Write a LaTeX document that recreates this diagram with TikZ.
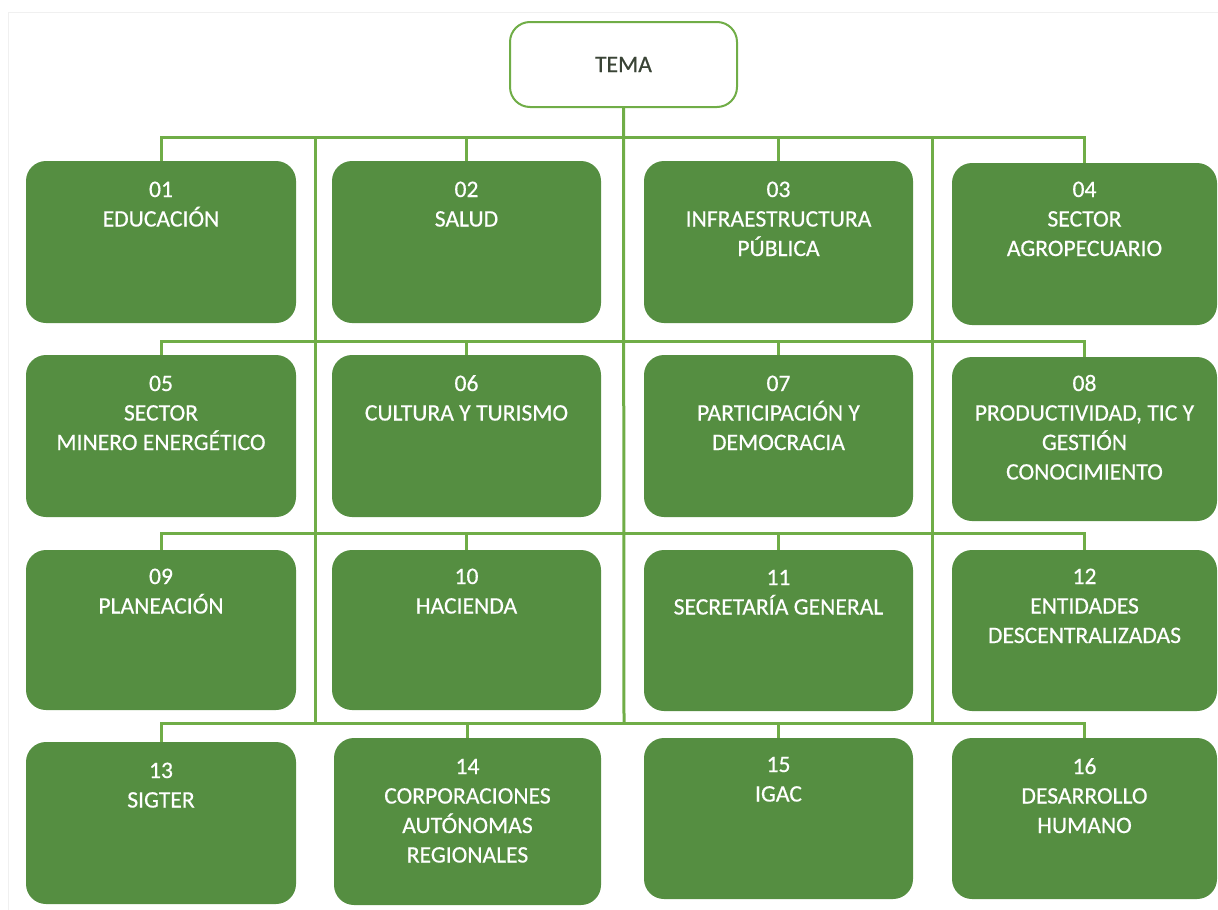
\documentclass[tikz,border=0pt]{standalone}
\usepackage{fontspec}
\setmainfont{Carlito}
\newfontfamily\boxfont[FakeBold=0.5]{Carlito}
\definecolor{boxgreen}{HTML}{558E41}
\definecolor{linegreen}{HTML}{70AD47}
\definecolor{temagray}{HTML}{3A4436}
\definecolor{framegray}{HTML}{F0F0F0}
\begin{document}
\begin{tikzpicture}[x=1pt,y=-1pt,
  gbox/.style={fill=boxgreen, draw=none, rounded corners=20pt, inner sep=0pt},
  gtext/.style={text=white, align=center, inner sep=0pt, anchor=north,
    font=\boxfont\fontsize{23.6}{29.5}\selectfont},
  temabox/.style={draw=linegreen, line width=2pt, fill=white, rounded corners=20pt,
    inner sep=0pt, minimum width=227pt, minimum height=85pt, text=temagray,
    font=\boxfont\fontsize{23.6}{29.5}\selectfont},
  conn/.style={draw=linegreen, line width=3pt},
  framestyle/.style={draw=framegray, line width=1pt}]
\useasboundingbox (0,0) rectangle (1218,910);
\draw[framestyle] (8,910) -- (8,12) -- (1218,12);

% TEMA
\node[temabox] (tema) at (623.5,64.5) {TEMA};

% boxes: row 1
\node[gbox, minimum width=270pt, minimum height=162pt] (b01) at (161,242) {};
\node[gbox, minimum width=269pt, minimum height=162pt] (b02) at (466.5,242) {};
\node[gbox, minimum width=269pt, minimum height=162pt] (b03) at (778.5,242) {};
\node[gbox, minimum width=265pt, minimum height=162pt] (b04) at (1084.5,244) {};
% row 2
\node[gbox, minimum width=270pt, minimum height=162pt] (b05) at (161,436) {};
\node[gbox, minimum width=269pt, minimum height=162pt] (b06) at (466.5,436) {};
\node[gbox, minimum width=269pt, minimum height=162pt] (b07) at (778.5,436) {};
\node[gbox, minimum width=265pt, minimum height=164pt] (b08) at (1084.5,439) {};
% row 3
\node[gbox, minimum width=270pt, minimum height=160pt] (b09) at (161,630) {};
\node[gbox, minimum width=269pt, minimum height=160pt] (b10) at (466.5,630) {};
\node[gbox, minimum width=269pt, minimum height=161pt] (b11) at (778.5,630.5) {};
\node[gbox, minimum width=265pt, minimum height=161pt] (b12) at (1084.5,630.5) {};
% row 4
\node[gbox, minimum width=270pt, minimum height=162pt] (b13) at (161,823) {};
\node[gbox, minimum width=267pt, minimum height=167pt] (b14) at (467.5,821.5) {};
\node[gbox, minimum width=269pt, minimum height=161pt] (b15) at (778.5,818.5) {};
\node[gbox, minimum width=265pt, minimum height=161pt] (b16) at (1084.5,818.5) {};

% texts
\node[gtext] (t01) at ([yshift=-19pt]b01.north) {\rule{0pt}{17pt}01\\EDUCACIÓN};
\node[gtext] (t02) at ([yshift=-19pt]b02.north) {\rule{0pt}{17pt}02\\SALUD};
\node[gtext] (t03) at ([yshift=-19pt]b03.north) {\rule{0pt}{17pt}03\\INFRAESTRUCTURA\\PÚBLICA};
\node[gtext] (t04) at ([yshift=-17pt]b04.north) {\rule{0pt}{17pt}04\\SECTOR\\AGROPECUARIO};
\node[gtext] (t05) at ([yshift=-19pt]b05.north) {\rule{0pt}{17pt}05\\SECTOR\\MINERO ENERGÉTICO};
\node[gtext] (t06) at ([yshift=-19pt]b06.north) {\rule{0pt}{17pt}06\\CULTURA Y TURISMO};
\node[gtext] (t07) at ([yshift=-19pt]b07.north) {\rule{0pt}{17pt}07\\PARTICIPACIÓN Y\\DEMOCRACIA};
\node[gtext] (t08) at ([yshift=-17pt]b08.north) {\rule{0pt}{17pt}08\\PRODUCTIVIDAD, TIC Y\\GESTIÓN\\CONOCIMIENTO};
\node[gtext] (t09) at ([yshift=-17pt]b09.north) {\rule{0pt}{17pt}09\\PLANEACIÓN};
\node[gtext] (t10) at ([yshift=-17pt]b10.north) {\rule{0pt}{17pt}10\\HACIENDA};
\node[gtext] (t11) at ([yshift=-18pt]b11.north) {\rule{0pt}{17pt}11\\SECRETARÍA GENERAL};
\node[gtext] (t12) at ([yshift=-17pt]b12.north) {\rule{0pt}{17pt}12\\ENTIDADES\\DESCENTRALIZADAS};
\node[gtext] (t13) at ([yshift=-19pt]b13.north) {\rule{0pt}{17pt}13\\SIGTER};
\node[gtext] (t14) at ([yshift=-19pt]b14.north) {\rule{0pt}{17pt}14\\CORPORACIONES\\AUTÓNOMAS\\REGIONALES};
\node[gtext] (t15) at ([yshift=-17pt]b15.north) {\rule{0pt}{17pt}15\\IGAC};
\node[gtext] (t16) at ([yshift=-19pt]b16.north) {\rule{0pt}{17pt}16\\DESARROLLO\\HUMANO};

% bus coordinates
\coordinate (bus1) at (624,137);
\coordinate (bus2) at (624,341);
\coordinate (bus3) at (624,533);
\coordinate (bus4) at (624,723);
\coordinate (v1top) at (315,137);
\coordinate (v2top) at (932,137);

% trunk and verticals
\draw[conn] (tema.south) -- (bus4);
\draw[conn] (v1top) -- (v1top |- bus4);
\draw[conn] (v2top) -- (v2top |- bus4);

% row buses with end stubs
\draw[conn] (b01.north) |- (bus1) -| (b04.north);
\draw[conn] (b02.north) -- (b02.north |- bus1);
\draw[conn] (b03.north) -- (b03.north |- bus1);

\draw[conn] (b05.north) |- (bus2) -| (b08.north);
\draw[conn] (b06.north) -- (b06.north |- bus2);
\draw[conn] (b07.north) -- (b07.north |- bus2);

\draw[conn] (b09.north) |- (bus3) -| (b12.north);
\draw[conn] (b10.north) -- (b10.north |- bus3);
\draw[conn] (b11.north) -- (b11.north |- bus3);

\draw[conn] (b13.north) |- (bus4) -| (b16.north);
\draw[conn] (b14.north) -- (b14.north |- bus4);
\draw[conn] (b15.north) -- (b15.north |- bus4);
\end{tikzpicture}
\end{document}
